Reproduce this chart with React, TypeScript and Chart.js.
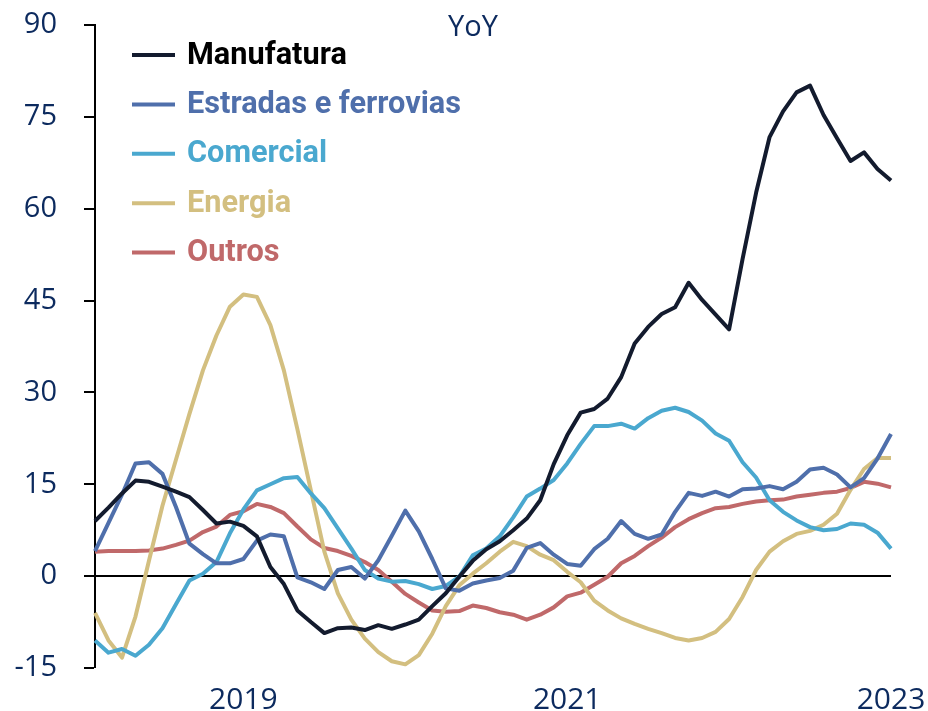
import React, { useEffect, useRef } from 'react';
import { Chart, registerables } from 'chart.js';

Chart.register(...registerables);

// Monthly observations, Feb 2018 .. Jan 2023
const months = [
  '2018-02', '2018-03', '2018-04', '2018-05', '2018-06', '2018-07', '2018-08', '2018-09', '2018-10', '2018-11', '2018-12',
  '2019-01', '2019-02', '2019-03', '2019-04', '2019-05', '2019-06', '2019-07', '2019-08', '2019-09', '2019-10', '2019-11', '2019-12',
  '2020-01', '2020-02', '2020-03', '2020-04', '2020-05', '2020-06', '2020-07', '2020-08', '2020-09', '2020-10', '2020-11', '2020-12',
  '2021-01', '2021-02', '2021-03', '2021-04', '2021-05', '2021-06', '2021-07', '2021-08', '2021-09', '2021-10', '2021-11', '2021-12',
  '2022-01', '2022-02', '2022-03', '2022-04', '2022-05', '2022-06', '2022-07', '2022-08', '2022-09', '2022-10', '2022-11', '2022-12',
  '2023-01',
];
const xTickYears = ['2019', '2021', '2023'];
const yMin = -15;
const yMax = 90;
const yStep = 15;
const chartTitle = 'YoY';

const seriesNames = ['Manufatura', 'Estradas e ferrovias', 'Comercial', 'Energia', 'Outros'];
const seriesColors = ['#131b2e', '#4f6fab', '#4aa8cf', '#d3bf80', '#c0696a'];
const legendTextColors = ['#000000', '#4f6fab', '#4aa8cf', '#d3bf80', '#c0696a'];

const manufatura = [
  9.0, 11.2, 13.5, 15.6, 15.4, 14.6, 13.8, 12.9, 10.8, 8.6,
  8.9, 8.2, 6.5, 1.5, -1.3, -5.6, -7.5, -9.3, -8.5, -8.4,
  -8.8, -8.0, -8.6, -7.9, -7.1, -4.9, -2.8, -0.1, 2.5, 4.4,
  5.7, 7.5, 9.4, 12.4, 18.3, 23.0, 26.7, 27.3, 29.0, 32.5,
  38.0, 40.7, 42.8, 43.9, 47.9, 45.1, 42.7, 40.3, 51.8, 62.6,
  71.7, 75.9, 79.0, 80.1, 75.3, 71.5, 67.8, 69.2, 66.5, 64.6,
];
const estradas = [
  4.1, 8.7, 13.3, 18.4, 18.6, 16.7, 11.3, 5.3, 3.6, 2.1,
  2.1, 2.8, 5.8, 6.8, 6.5, -0.2, -1.0, -2.1, 1.0, 1.5,
  -0.4, 2.6, 6.6, 10.7, 7.3, 2.8, -2.0, -2.4, -1.2, -0.7,
  -0.3, 0.9, 4.6, 5.4, 3.5, 2.0, 1.7, 4.4, 6.1, 9.0,
  6.9, 6.1, 6.8, 10.5, 13.6, 13.1, 13.8, 13.0, 14.2, 14.3,
  14.7, 14.2, 15.4, 17.4, 17.7, 16.6, 14.5, 16.0, 19.2, 23.2,
];
const comercial = [
  -10.5, -12.5, -11.9, -13.0, -11.2, -8.5, -4.6, -0.7, 0.4, 2.3,
  7.0, 10.9, 14.0, 15.0, 16.0, 16.2, 13.5, 11.1, 7.8, 4.5,
  1.0, -0.4, -0.9, -0.8, -1.3, -2.1, -1.6, -0.1, 3.4, 4.5,
  6.5, 9.6, 13.0, 14.3, 15.7, 18.4, 21.6, 24.5, 24.5, 24.9,
  24.1, 25.8, 27.0, 27.5, 26.8, 25.4, 23.3, 22.1, 18.6, 16.1,
  12.4, 10.5, 9.1, 8.0, 7.5, 7.7, 8.6, 8.4, 7.1, 4.5,
];
const energia = [
  -6.0, -10.5, -13.3, -6.6, 2.5, 11.5, 19.0, 26.5, 33.6, 39.3,
  44.0, 46.0, 45.6, 41.0, 33.6, 24.0, 14.0, 4.0, -2.8, -7.1,
  -10.2, -12.4, -13.9, -14.4, -12.9, -9.4, -4.9, -1.5, 0.4, 2.1,
  4.0, 5.6, 4.9, 3.5, 2.6, 0.7, -1.0, -4.0, -5.6, -6.9,
  -7.8, -8.6, -9.3, -10.1, -10.5, -10.1, -9.1, -7.0, -3.4, 1.0,
  4.0, 5.7, 6.9, 7.4, 8.4, 10.2, 14.1, 17.5, 19.3, 19.3,
];
const outros = [
  4.0, 4.1, 4.1, 4.1, 4.2, 4.5, 5.1, 5.8, 7.2, 8.1,
  10.0, 10.6, 11.8, 11.3, 10.3, 8.1, 6.0, 4.6, 4.1, 3.3,
  2.3, 1.0, -0.9, -2.9, -4.3, -5.6, -5.8, -5.7, -4.8, -5.2,
  -5.9, -6.3, -7.1, -6.3, -5.1, -3.3, -2.7, -1.4, -0.1, 2.1,
  3.3, 4.9, 6.3, 8.0, 9.3, 10.3, 11.1, 11.3, 11.8, 12.2,
  12.4, 12.5, 13.0, 13.3, 13.6, 13.8, 14.4, 15.4, 15.1, 14.5,
];

const seriesValues = [manufatura, estradas, comercial, energia, outros];

const NAVY = '#0c2a5e';
const TICK_FONT = '"Open Sans", "DejaVu Sans", sans-serif';
const LEGEND_FONT = 'Roboto, "Noto Sans", sans-serif';

const overlayPlugin = {
  id: 'overlay',
  afterDraw(chart: any) {
    const ctx = chart.ctx as CanvasRenderingContext2D;
    const area = chart.chartArea;
    ctx.save();
    // title
    ctx.font = `29px ${TICK_FONT}`;
    ctx.fillStyle = NAVY;
    ctx.textAlign = 'center';
    ctx.textBaseline = 'middle';
    ctx.fillText(chartTitle, area.left + 378, area.top + 3);
    // legend
    chart.data.datasets.forEach((ds: any, i: number) => {
      const y = area.top + 30 + i * 49.4;
      ctx.strokeStyle = ds.borderColor;
      ctx.lineWidth = 4;
      ctx.lineCap = 'butt';
      ctx.beginPath();
      ctx.moveTo(area.left + 37, y);
      ctx.lineTo(area.left + 80, y);
      ctx.stroke();
      ctx.font = `bold 30.7px ${LEGEND_FONT}`;
      ctx.fillStyle = legendTextColors[i];
      ctx.textAlign = 'left';
      ctx.textBaseline = 'middle';
      ctx.fillText(ds.label, area.left + 92, y + 1);
    });
    ctx.restore();
  },
};

export default function App() {
  const canvasRef = useRef<HTMLCanvasElement | null>(null);

  useEffect(() => {
    const canvas = canvasRef.current;
    if (!canvas) return;
    const chart = new Chart(canvas, {
      type: 'line',
      data: {
        labels: months,
        datasets: seriesNames.map((name, i) => ({
          label: name,
          data: seriesValues[i],
          borderColor: seriesColors[i],
          backgroundColor: seriesColors[i],
          borderWidth: 4,
          pointRadius: 0,
          pointHoverRadius: 0,
          tension: 0,
          fill: false,
          borderJoinStyle: 'round' as const,
        })),
      },
      options: {
        responsive: false,
        animation: false,
        devicePixelRatio: 1,
        layout: { padding: { left: 0, right: 37, top: 25, bottom: 0 } },
        plugins: {
          legend: { display: false },
          tooltip: { enabled: false },
          title: { display: false },
        },
        scales: {
          x: {
            type: 'category',
            offset: false,
            grid: { display: false },
            border: { display: false },
            afterFit: (scale: any) => {
              scale.height = 43;
              scale.paddingLeft = 0;
              scale.paddingRight = 0;
            },
            ticks: {
              autoSkip: false,
              maxRotation: 0,
              minRotation: 0,
              padding: 6,
              color: NAVY,
              font: { family: TICK_FONT, size: 30 },
              callback: function (this: any, _val: any, index: number) {
                const lab = months[index];
                const year = lab.slice(0, 4);
                return lab.endsWith('-01') && xTickYears.includes(year) ? year : '';
              },
            },
          },
          y: {
            min: yMin,
            max: yMax,
            afterFit: (scale: any) => {
              scale.width = 95;
              scale.paddingTop = 0;
              scale.paddingBottom = 0;
            },
            border: { display: true, color: '#000000', width: 2 },
            grid: {
              drawOnChartArea: true,
              drawTicks: true,
              tickLength: 11,
              tickWidth: 2,
              tickColor: '#000000',
              color: (c: any) => (c.tick && c.tick.value === 0 ? '#000000' : 'rgba(0,0,0,0)'),
              lineWidth: (c: any) => (c.tick && c.tick.value === 0 ? 2 : 0),
            },
            ticks: {
              stepSize: yStep,
              padding: 27,
              color: NAVY,
              font: { family: TICK_FONT, size: 29 },
            },
          },
        },
      },
      plugins: [overlayPlugin],
    });
    return () => chart.destroy();
  }, []);

  return (
    <div style={{ position: 'fixed', left: 0, top: 0, width: 928, height: 711, background: '#ffffff' }}>
      <canvas ref={canvasRef} width={928} height={711} style={{ display: 'block', width: 928, height: 711 }} />
    </div>
  );
}
